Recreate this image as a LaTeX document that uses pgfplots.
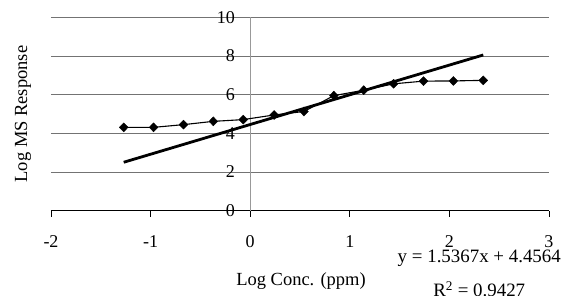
\documentclass[border=0pt]{standalone}
\usepackage{fontspec}
\setmainfont{Liberation Serif}
\usepackage{pgfplots}
\pgfplotsset{compat=1.18}
\begin{document}
\begin{tikzpicture}
\begin{axis}[
  at={(0,0)}, anchor=south west,
  scale only axis, width=498pt, height=193.4pt,
  xmin=-2, xmax=3, ymin=0, ymax=10,
  axis x line*=bottom, axis y line*=left,
  x axis line style={black, line width=0.8pt, -},
  y axis line style={draw=none},
  xtick={-2,-1,1,2,3}, xticklabels={-2,-1,1,2,3},
  extra x ticks={0}, extra x tick labels={0},
  extra x tick style={xmajorgrids=true, major grid style={black!40, line width=0.8pt},
    major tick style={black!40, line width=0.8pt}},
  ytick={0,2,4,6,8,10}, yticklabels={0,2,4,6,8,10},
  xtick align=outside, major tick length=6pt,
  xtick style={black, line width=0.8pt},
  ytick style={draw=none},
  ymajorgrids, grid style={black!55, line width=0.8pt},
  tick label style={font=\fontsize{18}{20}\selectfont, inner sep=0pt},
  xticklabel style={anchor=north, yshift=-19pt},
  yticklabel style={anchor=east, xshift=184pt},
  /pgf/number format/assume math mode=true,
  xlabel={Log Conc. (ppm)}, ylabel={Log MS Response},
  label style={font=\fontsize{18.5}{20}\selectfont},
  xlabel style={at={(axis description cs:0.502,-0.366)}, anchor=center},
  ylabel style={at={(axis description cs:-0.0562,0.5)}, anchor=center, rotate=0},
  clip=false,
]
\addplot[black, line width=1.1pt, mark=diamond*, mark size=4.5pt,
  mark options={solid, fill=black, draw=black, line width=0.4pt, xscale=1.3}]
  coordinates {
  (-1.27,4.31) (-0.97,4.31) (-0.67,4.45) (-0.37,4.62) (-0.07,4.71)
  (0.24,4.95) (0.54,5.13) (0.84,5.95) (1.14,6.23) (1.44,6.56)
  (1.74,6.70) (2.04,6.71) (2.34,6.74)
  };
\addplot[black, line width=2.8pt, no marks] coordinates {(-1.27,2.505) (2.34,8.052)};
\node[font=\fontsize{18.9}{20}\selectfont, inner sep=0pt] at (axis description cs:0.860,-0.247) {y = 1.5367x + 4.4564};
\node[font=\fontsize{18.9}{20}\selectfont, inner sep=0pt] at (axis description cs:0.860,-0.405) {R\textsuperscript{2} = 0.9427};
\end{axis}
\pgfresetboundingbox
\path (-51pt,-84.3pt) rectangle (512pt,210.7pt);
\end{tikzpicture}
\end{document}
